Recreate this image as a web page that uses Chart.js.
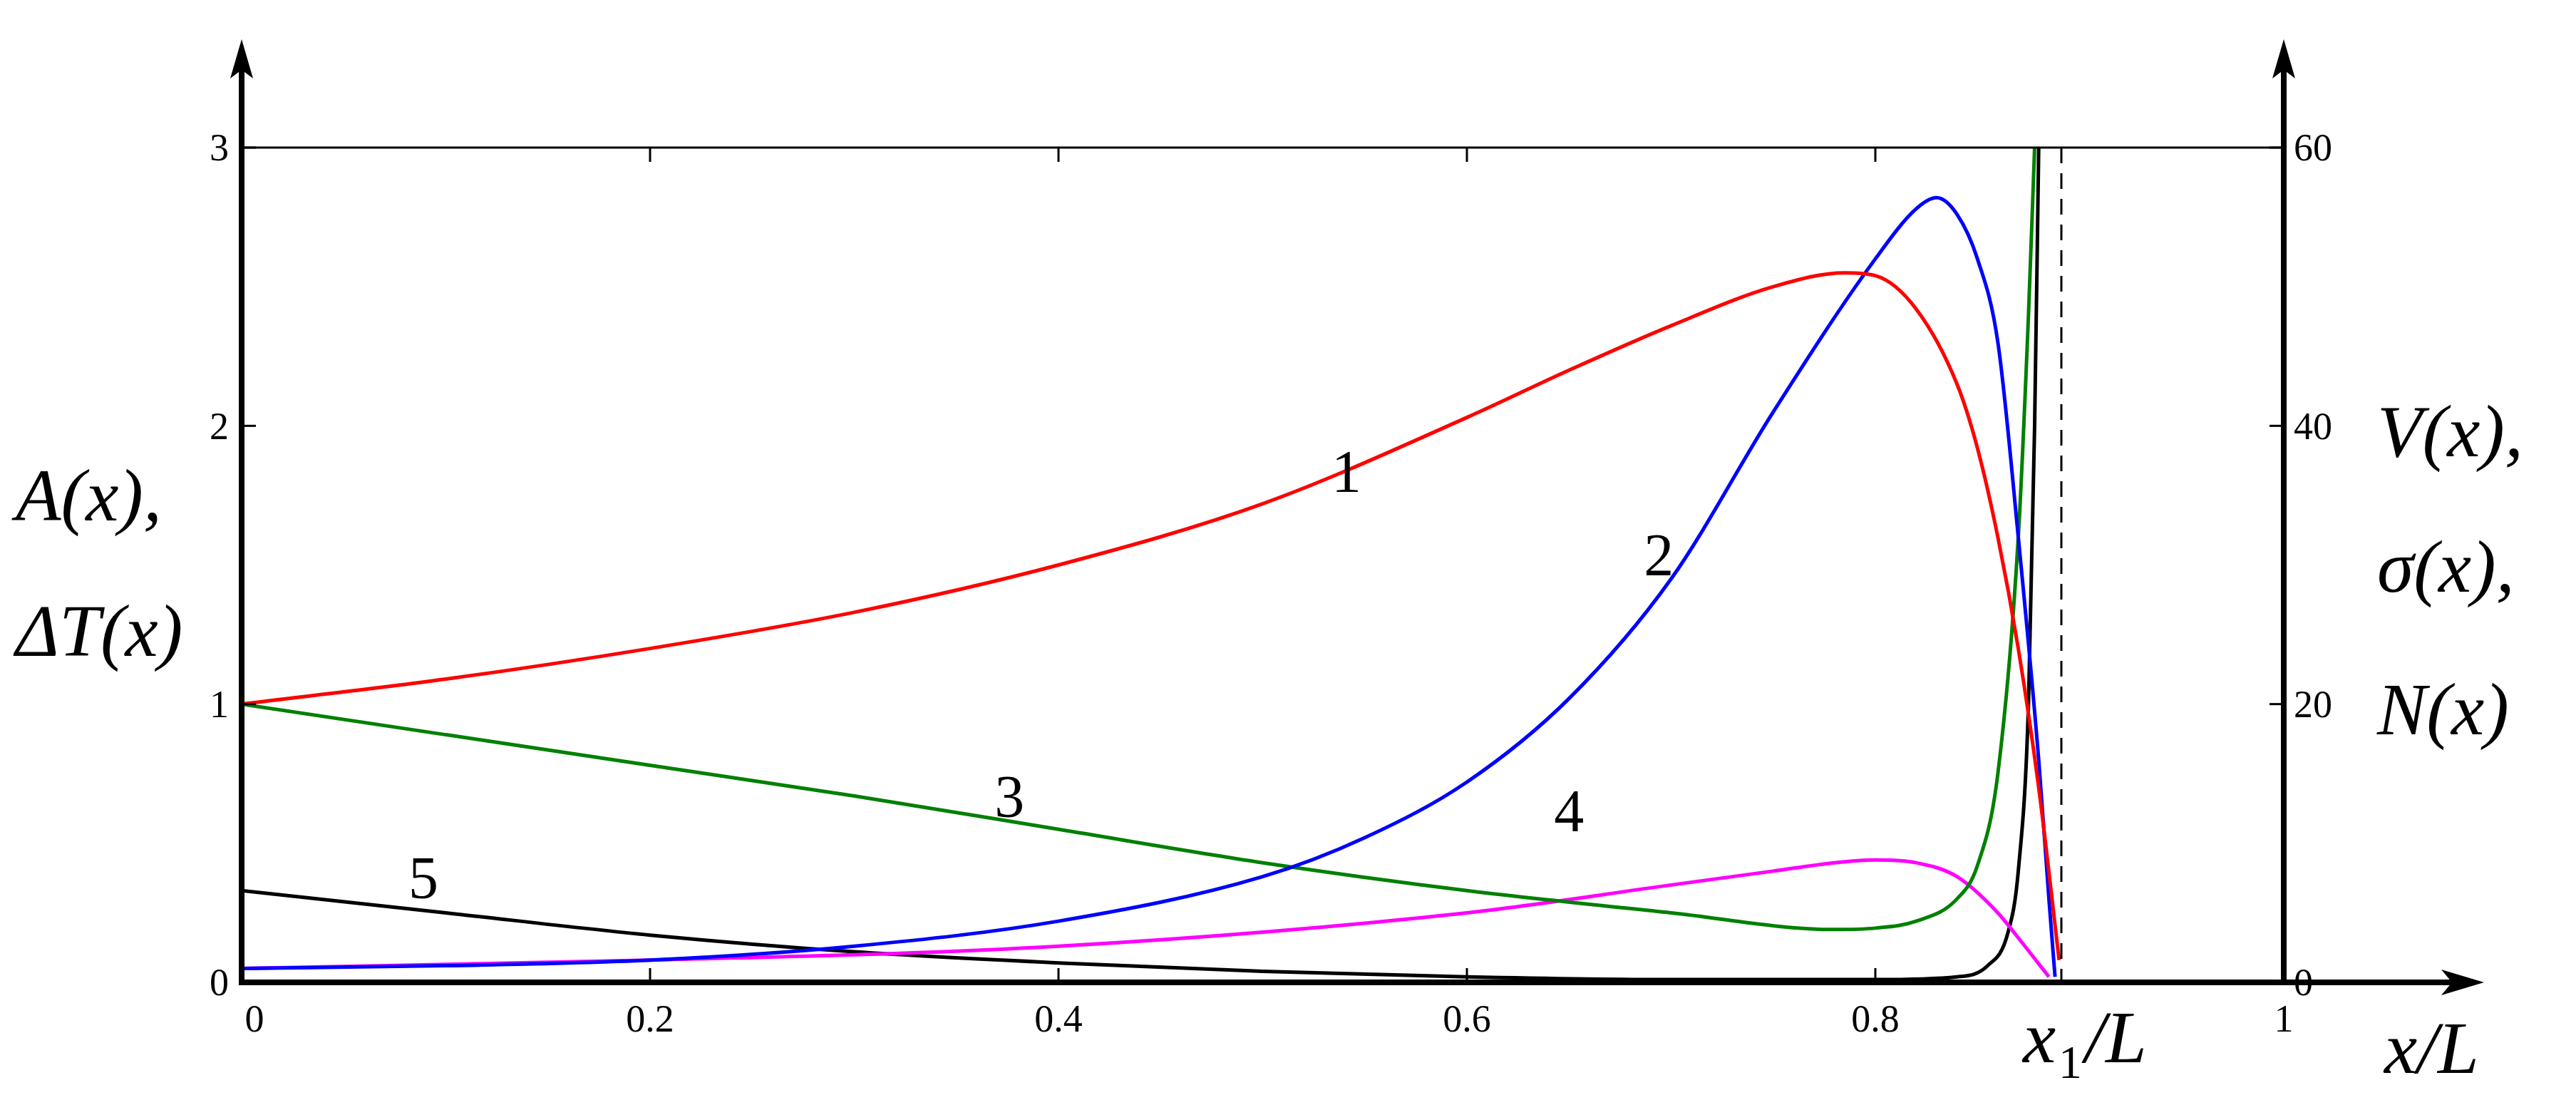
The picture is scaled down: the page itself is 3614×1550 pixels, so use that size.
<!DOCTYPE html>
<html><head><meta charset="utf-8">
<script src="https://cdn.jsdelivr.net/npm/chart.js@4/dist/chart.umd.min.js"></script>
<style>html,body{margin:0;background:#fff}#w{width:3614px;height:1550px}</style>
</head><body><div id="w"><canvas id="c"></canvas></div>
<script>
const x1 = [0,0.1,0.2,0.3,0.4,0.5,0.6,0.65,0.7,0.75,0.785,0.8,0.82,0.84,0.85,0.86,0.87,0.88,0.89];
const y1 = [1,1.09,1.2,1.33,1.5,1.72,2.03,2.2,2.36,2.5,2.55,2.54,2.42,2.15,1.92,1.6,1.2,0.7,0.08];
const x2 = [0,0.1,0.2,0.3,0.4,0.5,0.55,0.6,0.65,0.7,0.75,0.8,0.82,0.83,0.84,0.85,0.86,0.87,0.88,0.885,0.888];
const y2 = [0.05,0.06,0.08,0.13,0.22,0.38,0.52,0.72,1.02,1.45,2.05,2.6,2.78,2.82,2.76,2.6,2.3,1.6,0.8,0.3,0.02];
const x3 = [0,0.1,0.2,0.3,0.4,0.5,0.6,0.7,0.78,0.8,0.82,0.84,0.85,0.86,0.87,0.875,0.878];
const y3 = [1,0.89,0.78,0.67,0.55,0.43,0.33,0.25,0.19,0.195,0.22,0.3,0.42,0.75,1.6,2.4,3.0];
const x4 = [0,0.2,0.4,0.6,0.7,0.75,0.78,0.8,0.82,0.84,0.86,0.87,0.885];
const y4 = [0.05,0.08,0.13,0.25,0.35,0.4,0.43,0.44,0.43,0.38,0.25,0.16,0.02];
const x5 = [0,0.1,0.2,0.3,0.4,0.5,0.6,0.7,0.8,0.84,0.855,0.865,0.87,0.875,0.878,0.88];
const y5 = [0.33,0.25,0.17,0.11,0.07,0.04,0.02,0.01,0.01,0.02,0.06,0.18,0.4,1.0,2.0,3.0];
const curveLabels = [["1",0.541,1.82],["2",0.694,1.52],["3",0.376,0.65],["4",0.65,0.60],["5",0.089,0.36]];
const xTicks = [0,0.2,0.4,0.6,0.8,1];
const leftTicks = [0,1,2,3];
const rightTicks = [0,20,40,60];
const xOne = 0.889;

const pts=(xs,ys)=>xs.map((x,i)=>({x,y:ys[i]}));
const mk=(xs,ys,c)=>({data:pts(xs,ys),borderColor:c,borderWidth:5,pointRadius:0,fill:false,cubicInterpolationMode:'monotone'});
const SERIF='"Liberation Serif", "Times New Roman", "DejaVu Serif", serif';

const deco={id:'deco',afterDraw(ch){
  const c=ch.ctx,X=ch.scales.x,Y=ch.scales.y,a=ch.chartArea;
  const L=a.left,R=a.right,T=a.top,B=a.bottom;
  c.save();c.strokeStyle='#000';c.fillStyle='#000';
  c.lineWidth=3;c.beginPath();c.moveTo(L,T);c.lineTo(R,T);c.stroke();
  c.setLineDash([22,14]);c.beginPath();c.moveTo(X.getPixelForValue(xOne)+6,T);c.lineTo(X.getPixelForValue(xOne)+6,B);c.stroke();c.setLineDash([]);
  c.lineWidth=3;
  xTicks.forEach(v=>{const p=X.getPixelForValue(v);c.beginPath();c.moveTo(p,B);c.lineTo(p,B-20);c.moveTo(p,T);c.lineTo(p,T+20);c.stroke();});
  leftTicks.forEach(v=>{const p=Y.getPixelForValue(v);c.beginPath();c.moveTo(L,p);c.lineTo(L+20,p);c.stroke();});
  rightTicks.forEach(v=>{const p=ch.scales.y2.getPixelForValue(v);c.beginPath();c.moveTo(R,p);c.lineTo(R-20,p);c.stroke();});
  c.lineWidth=8;
  c.beginPath();c.moveTo(L,B+4);c.lineTo(L,70);c.stroke();
  c.beginPath();c.moveTo(R,B+4);c.lineTo(R,70);c.stroke();
  c.beginPath();c.moveTo(L-4,B);c.lineTo(3460,B);c.stroke();
  const arrUp=(x)=>{c.beginPath();c.moveTo(x,55);c.lineTo(x-16,110);c.lineTo(x,98);c.lineTo(x+16,110);c.closePath();c.fill();};
  arrUp(L);arrUp(R);
  c.beginPath();c.moveTo(3485,B);c.lineTo(3425,B-18);c.lineTo(3440,B);c.lineTo(3425,B+18);c.closePath();c.fill();
  c.font='54px '+SERIF;
  c.textAlign='right';c.textBaseline='middle';
  leftTicks.forEach(v=>c.fillText(String(v),L-18,Y.getPixelForValue(v)+4));
  c.textAlign='left';
  rightTicks.forEach(v=>c.fillText(String(v),R+14,ch.scales.y2.getPixelForValue(v)+4));
  c.textAlign='center';c.textBaseline='top';
  xTicks.forEach(v=>c.fillText(String(v),X.getPixelForValue(v)+(v===0?18:0),B+28));
  c.font='84px '+SERIF;c.textBaseline='middle';
  curveLabels.forEach(([t,x,y])=>c.fillText(t,X.getPixelForValue(x),Y.getPixelForValue(y)));
  c.font='italic 104px '+SERIF;c.textAlign='left';c.textBaseline='alphabetic';
  c.fillText('A(x),',22,730);c.fillText('\u0394T(x)',22,920);
  c.fillText('V(x),',3335,640);c.fillText('\u03C3(x),',3335,830);c.fillText('N(x)',3335,1030);
  c.fillText('x/L',3345,1505);
  c.fillText('x',2838,1490);c.font='66px '+SERIF;c.fillText('1',2888,1512);
  c.font='italic 104px '+SERIF;c.fillText('/L',2925,1490);
  c.restore();
}};

new Chart(document.getElementById('c'),{type:'line',
 data:{datasets:[mk(x1,y1,'#ff0000'),mk(x2,y2,'#0000ff'),mk(x3,y3,'#008000'),mk(x4,y4,'#ff00ff'),mk(x5,y5,'#000000')]},
 options:{responsive:true,maintainAspectRatio:false,animation:false,
  layout:{padding:{left:339,right:410,top:207,bottom:172}},
  plugins:{legend:{display:false},tooltip:{enabled:false}},
  scales:{x:{type:'linear',min:0,max:1,display:false},
          y:{min:0,max:3,display:false},
          y2:{min:0,max:60,display:false,position:'right'}}},
 plugins:[deco]});
</script></body></html>
